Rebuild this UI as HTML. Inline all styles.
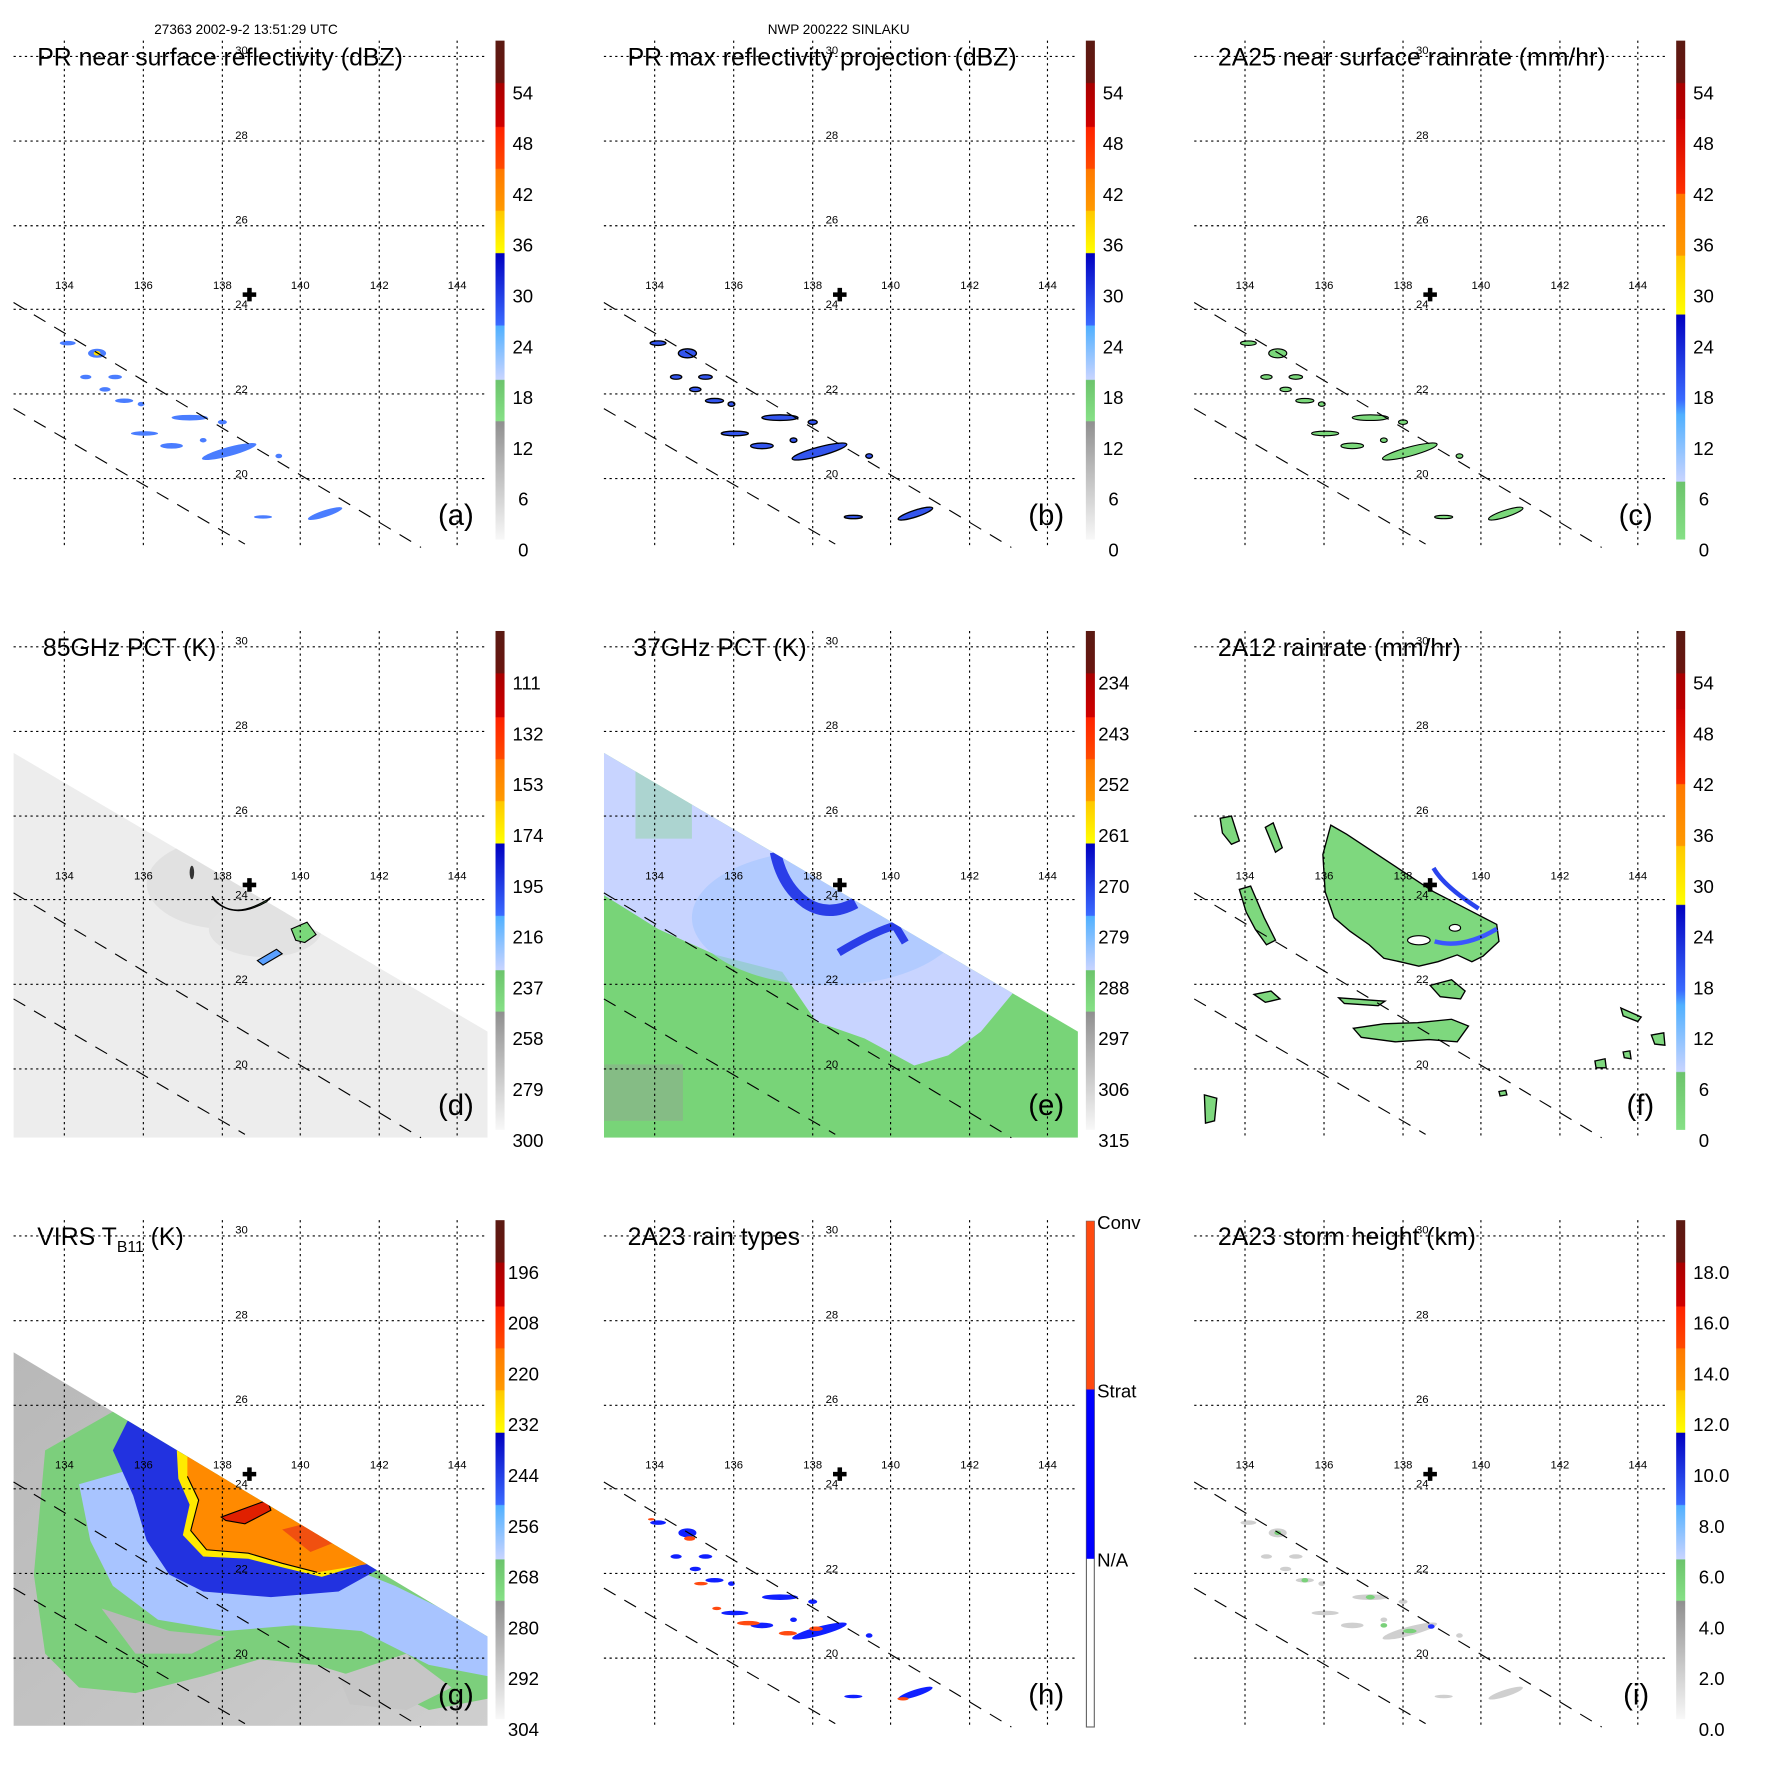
<!DOCTYPE html>
<html><head><meta charset="utf-8">
<style>
html,body{margin:0;padding:0;background:#fff;}
svg{display:block;}
text{font-family:"Liberation Sans",sans-serif;fill:#000;}
.t{font-size:22px;}
.l{font-size:26px;}
.c{font-size:16.5px;}
.s{font-size:10px;}
.h{font-size:12px;}
</style></head>
<body>
<svg width="1771" height="1771" viewBox="0 0 1569 1569" xmlns="http://www.w3.org/2000/svg" xmlns:xlink="http://www.w3.org/1999/xlink">
<defs>
<linearGradient id="gstd" x1="0" y1="0" x2="0" y2="1">
<stop offset="0" stop-color="#5a1a12"/><stop offset="0.084" stop-color="#6a1510"/>
<stop offset="0.086" stop-color="#a80000"/><stop offset="0.172" stop-color="#d00000"/>
<stop offset="0.174" stop-color="#ff2200"/><stop offset="0.256" stop-color="#ff4a00"/>
<stop offset="0.258" stop-color="#ff7800"/><stop offset="0.34" stop-color="#ff9a00"/>
<stop offset="0.342" stop-color="#ffc800"/><stop offset="0.425" stop-color="#ffff00"/>
<stop offset="0.427" stop-color="#0000c0"/><stop offset="0.57" stop-color="#3a6aff"/>
<stop offset="0.572" stop-color="#50b0ff"/><stop offset="0.679" stop-color="#c8d4ff"/>
<stop offset="0.681" stop-color="#6cc46c"/><stop offset="0.762" stop-color="#86e086"/>
<stop offset="0.764" stop-color="#909090"/><stop offset="1" stop-color="#f8f8f8"/>
</linearGradient>
<linearGradient id="grr" x1="0" y1="0" x2="0" y2="1">
<stop offset="0" stop-color="#5a1a12"/><stop offset="0.084" stop-color="#6a1510"/>
<stop offset="0.086" stop-color="#a80000"/><stop offset="0.156" stop-color="#c00000"/>
<stop offset="0.158" stop-color="#d00000"/><stop offset="0.306" stop-color="#ff3000"/>
<stop offset="0.308" stop-color="#ff7800"/><stop offset="0.43" stop-color="#ff9a00"/>
<stop offset="0.432" stop-color="#ffc800"/><stop offset="0.548" stop-color="#ffff00"/>
<stop offset="0.55" stop-color="#0000c0"/><stop offset="0.72" stop-color="#3a6aff"/>
<stop offset="0.75" stop-color="#50b0ff"/><stop offset="0.883" stop-color="#c8d4ff"/>
<stop offset="0.885" stop-color="#6cc46c"/><stop offset="1" stop-color="#86e086"/>
</linearGradient>
<linearGradient id="ggray" x1="0" y1="0" x2="1" y2="1">
<stop offset="0" stop-color="#b8b8b8"/><stop offset="0.6" stop-color="#c4c4c4"/><stop offset="1" stop-color="#cfcfcf"/>
</linearGradient>
<g id="grid" fill="none" stroke="#000" stroke-width="1" stroke-dasharray="2,3">
<path d="M57 36V486M127 36V486M197 36V486M266 36V486M336 36V486M405 36V486"/>
<path d="M12 50H432M12 125H432M12 200H432M12 274H432M12 349H432M12 424H432"/>
</g>
<g id="swl" fill="none" stroke="#000" stroke-width="1" stroke-dasharray="12,9">
<path d="M12 268L373 485M12 362L217 482"/>
</g>
<g id="dots">
<ellipse cx="60" cy="304" rx="7" ry="2"/><ellipse cx="86" cy="313" rx="8" ry="4"/>
<ellipse cx="76" cy="334" rx="5" ry="2"/><ellipse cx="102" cy="334" rx="6" ry="2"/>
<ellipse cx="93" cy="345" rx="5" ry="2"/><ellipse cx="110" cy="355" rx="8" ry="2"/>
<ellipse cx="168" cy="370" rx="16" ry="2.5"/><ellipse cx="197" cy="374" rx="4" ry="2"/>
<ellipse cx="128" cy="384" rx="12" ry="2"/><ellipse cx="152" cy="395" rx="10" ry="2.5"/>
<ellipse cx="203" cy="400" rx="25" ry="4" transform="rotate(-15 203 400)"/><ellipse cx="247" cy="404" rx="3" ry="2"/>
<ellipse cx="288" cy="455" rx="16" ry="3" transform="rotate(-18 288 455)"/><ellipse cx="233" cy="458" rx="8" ry="1.5"/>
<ellipse cx="125" cy="358" rx="3" ry="2"/><ellipse cx="180" cy="390" rx="3" ry="2"/>
</g>
<clipPath id="sw2"><polygon points="12,144 432,391 432,485 12,485"/></clipPath>
<clipPath id="sw3"><polygon points="12,153 432,405 432,484 12,484"/></clipPath>
</defs>

<rect width="1569" height="1569" fill="#fff"/>
<text class="h" x="218" y="30" text-anchor="middle">27363 2002-9-2 13:51:29 UTC</text>
<text class="h" x="743" y="30" text-anchor="middle">NWP 200222 SINLAKU</text>

<!-- ===== Panel a ===== -->
<g>
<use xlink:href="#dots" fill="#4a7dff"/>
<ellipse cx="86" cy="313" rx="3" ry="2" fill="#ffe000"/>
<use xlink:href="#grid"/><use xlink:href="#swl"/>
<rect x="439" y="36" width="8" height="442" fill="url(#gstd)"/>
<text class="c" x="454" y="88">54</text><text class="c" x="454" y="133">48</text><text class="c" x="454" y="178">42</text><text class="c" x="454" y="223">36</text><text class="c" x="454" y="268">30</text><text class="c" x="454" y="313">24</text><text class="c" x="454" y="358">18</text><text class="c" x="454" y="403">12</text><text class="c" x="459" y="448">6</text><text class="c" x="459" y="493">0</text>
<text class="t" x="33" y="58">PR near surface reflectivity (dBZ)</text>
<text class="l" x="388" y="465">(a)</text>
</g>

<!-- ===== Panel b ===== -->
<g transform="translate(523,0)">
<use xlink:href="#dots" fill="#3355ee" stroke="#000" stroke-width="1.2"/>
<use xlink:href="#grid"/><use xlink:href="#swl"/>
<rect x="439" y="36" width="8" height="442" fill="url(#gstd)"/>
<text class="c" x="454" y="88">54</text><text class="c" x="454" y="133">48</text><text class="c" x="454" y="178">42</text><text class="c" x="454" y="223">36</text><text class="c" x="454" y="268">30</text><text class="c" x="454" y="313">24</text><text class="c" x="454" y="358">18</text><text class="c" x="454" y="403">12</text><text class="c" x="459" y="448">6</text><text class="c" x="459" y="493">0</text>
<text class="t" x="33" y="58">PR max reflectivity projection (dBZ)</text>
<text class="l" x="388" y="465">(b)</text>
</g>

<!-- ===== Panel c ===== -->
<g transform="translate(1046,0)">
<use xlink:href="#dots" fill="#7ad87a" stroke="#000" stroke-width="1"/>
<use xlink:href="#grid"/><use xlink:href="#swl"/>
<rect x="439" y="36" width="8" height="442" fill="url(#grr)"/>
<text class="c" x="454" y="88">54</text><text class="c" x="454" y="133">48</text><text class="c" x="454" y="178">42</text><text class="c" x="454" y="223">36</text><text class="c" x="454" y="268">30</text><text class="c" x="454" y="313">24</text><text class="c" x="454" y="358">18</text><text class="c" x="454" y="403">12</text><text class="c" x="459" y="448">6</text><text class="c" x="459" y="493">0</text>
<text class="t" x="33" y="58">2A25 near surface rainrate (mm/hr)</text>
<text class="l" x="388" y="465">(c)</text>
</g>

<!-- ===== Panel d ===== -->
<g transform="translate(0,523)">
<g clip-path="url(#sw2)">
<rect x="12" y="140" width="420" height="345" fill="#ededed"/>
<ellipse cx="200" cy="260" rx="70" ry="40" fill="#dcdcdc" opacity="0.7"/>
<ellipse cx="235" cy="300" rx="50" ry="25" fill="#e2e2e2"/>
</g>
<path d="M188 271 Q205 295 240 272 L236 276 Q208 292 190 275Z" fill="#7ad87a" stroke="#000" stroke-width="1"/>
<path d="M258 300 L272 294 L280 305 L270 312 L262 310Z" fill="#7ad87a" stroke="#000" stroke-width="1"/>
<path d="M228 328 L245 318 L250 322 L233 332Z" fill="#5aa0ff" stroke="#000" stroke-width="1"/>
<ellipse cx="170" cy="250" rx="2" ry="6" fill="#333"/>
<use xlink:href="#grid"/><use xlink:href="#swl"/>
<rect x="439" y="36" width="8" height="442" fill="url(#gstd)"/>
<text class="c" x="454" y="88">111</text><text class="c" x="454" y="133">132</text><text class="c" x="454" y="178">153</text><text class="c" x="454" y="223">174</text><text class="c" x="454" y="268">195</text><text class="c" x="454" y="313">216</text><text class="c" x="454" y="358">237</text><text class="c" x="454" y="403">258</text><text class="c" x="454" y="448">279</text><text class="c" x="454" y="493">300</text>
<text class="t" x="38" y="58">85GHz PCT (K)</text>
<text class="l" x="388" y="465">(d)</text>
</g>

<!-- ===== Panel e ===== -->
<g transform="translate(523,523)">
<g clip-path="url(#sw2)">
<rect x="12" y="140" width="420" height="345" fill="#78d478"/>
<polygon points="12,100 432,340 419,345 390,338 346,391 317,412 287,421 243,397 200,382 170,338 111,323 60,300 12,270" fill="#c8d4ff"/>
<ellipse cx="210" cy="290" rx="120" ry="60" fill="#a8c8ff" opacity="0.7"/>
<path d="M164 232 Q170 262 191 277 Q211 290 235 277" fill="none" stroke="#2a3ee8" stroke-width="10"/>
<path d="M220 321 Q250 303 270 297 L279 312" fill="none" stroke="#2a3ee8" stroke-width="7"/>
<rect x="12" y="420" width="70" height="50" fill="#999" opacity="0.4"/>
<rect x="40" y="150" width="50" height="70" fill="#78d478" opacity="0.35"/>
</g>
<use xlink:href="#grid"/><use xlink:href="#swl"/>
<rect x="439" y="36" width="8" height="442" fill="url(#gstd)"/>
<text class="c" x="450" y="88">234</text><text class="c" x="450" y="133">243</text><text class="c" x="450" y="178">252</text><text class="c" x="450" y="223">261</text><text class="c" x="450" y="268">270</text><text class="c" x="450" y="313">279</text><text class="c" x="450" y="358">288</text><text class="c" x="450" y="403">297</text><text class="c" x="450" y="448">306</text><text class="c" x="450" y="493">315</text>
<text class="t" x="38" y="58">37GHz PCT (K)</text>
<text class="l" x="388" y="465">(e)</text>
</g>

<!-- ===== Panel f ===== -->
<g transform="translate(1046,523)">
<g fill="#7ed87e" stroke="#000" stroke-width="1.2">
<polygon points="133,208 147,216 224,267 280,296 282,311 268,324 258,329 245,323 228,329 211,333 194,329 180,326 167,314 150,302 136,290 128,267 126,234"/>
<polygon points="153,388 180,384 210,383 240,380 255,386 245,400 220,398 190,400 160,396"/>
<polygon points="140,361 181,364 175,368 145,366"/>
<polygon points="221,350 240,345 252,355 248,362 230,360"/>
<polygon points="52,265 62,262 74,290 84,310 76,314 66,300 58,285"/>
<polygon points="35,202 45,200 52,222 45,225 37,215"/>
<polygon points="75,210 82,206 90,228 84,232"/>
<polygon points="390,370 408,378 405,382 392,377"/>
<polygon points="417,394 428,392 429,403 420,402"/>
<polygon points="367,417 376,415 377,423 368,423"/>
<polygon points="392,409 398,408 399,415 393,414"/>
<polygon points="282,444 288,443 289,447 283,448"/>
<polygon points="21,447 32,450 30,470 22,472"/>
<polygon points="65,358 80,355 88,362 75,365"/>
</g>
<ellipse cx="211" cy="310" rx="10" ry="4" fill="#fff" stroke="#000"/>
<ellipse cx="243" cy="299" rx="5" ry="3" fill="#fff" stroke="#000"/>
<path d="M224 246 Q233 262 264 282" fill="none" stroke="#2a44ee" stroke-width="4"/>
<path d="M225 311 Q250 318 280 300" fill="none" stroke="#3a56ff" stroke-width="4"/>
<use xlink:href="#grid"/><use xlink:href="#swl"/>
<rect x="439" y="36" width="8" height="442" fill="url(#grr)"/>
<text class="c" x="454" y="88">54</text><text class="c" x="454" y="133">48</text><text class="c" x="454" y="178">42</text><text class="c" x="454" y="223">36</text><text class="c" x="454" y="268">30</text><text class="c" x="454" y="313">24</text><text class="c" x="454" y="358">18</text><text class="c" x="454" y="403">12</text><text class="c" x="459" y="448">6</text><text class="c" x="459" y="493">0</text>
<text class="t" x="33" y="58">2A12 rainrate (mm/hr)</text>
<text class="l" x="395" y="465">(f)</text>
</g>

<!-- ===== Panel g ===== -->
<g transform="translate(0,1045)">
<g clip-path="url(#sw3)">
<rect x="12" y="150" width="420" height="335" fill="url(#ggray)"/>
<polygon points="40,240 110,200 200,250 300,300 432,380 432,460 380,470 330,445 280,430 230,425 180,440 120,455 70,450 40,420 30,350" fill="#7ccf7c"/>
<polygon points="70,270 140,250 250,320 350,360 432,400 432,440 380,430 320,400 260,395 200,400 140,390 100,360 80,320" fill="#a8c4ff"/>
<polygon points="90,380 150,400 200,405 170,420 120,420" fill="#b8b8b8"/>
<polygon points="300,440 360,420 400,450 360,470 310,465" fill="#c6c6c6"/>
<polygon points="120,200 345,340 300,365 240,370 180,365 150,350 130,320 118,280 100,240" fill="#2232e0"/>
<polygon points="155,210 338,336 285,352 252,344 220,336 180,334 162,315 168,288 158,265" fill="#ffea00"/>
<polygon points="166,239 330,340 281,348 250,340 220,331 183,328 169,311 176,284 166,263" fill="#ff8a00"/>
<polygon points="196,299 237,284 240,293 217,305 200,302" fill="#e02000" stroke="#000"/>
<polygon points="250,310 290,300 300,320 275,330" fill="#f05010"/>
</g>
<path d="M166 263 L176 284 L169 311 L183 328 L220 331 L250 340 L281 348" fill="none" stroke="#000" stroke-width="1"/>
<use xlink:href="#grid"/><use xlink:href="#swl"/>
<rect x="439" y="36" width="8" height="442" fill="url(#gstd)"/>
<text class="c" x="450" y="88">196</text><text class="c" x="450" y="133">208</text><text class="c" x="450" y="178">220</text><text class="c" x="450" y="223">232</text><text class="c" x="450" y="268">244</text><text class="c" x="450" y="313">256</text><text class="c" x="450" y="358">268</text><text class="c" x="450" y="403">280</text><text class="c" x="450" y="448">292</text><text class="c" x="450" y="493">304</text>
<text class="t" x="33" y="58">VIRS T<tspan font-size="14" dy="6">B11</tspan><tspan dy="-6"> (K)</tspan></text>
<text class="l" x="388" y="465">(g)</text>
</g>

<!-- ===== Panel h ===== -->
<g transform="translate(523,1045)">
<use xlink:href="#dots" fill="#1020ff"/>
<g fill="#ff4a10">
<ellipse cx="88" cy="318" rx="5" ry="2"/><ellipse cx="140" cy="393" rx="10" ry="2"/><ellipse cx="175" cy="402" rx="8" ry="2"/>
<ellipse cx="200" cy="398" rx="6" ry="2"/><ellipse cx="98" cy="358" rx="6" ry="1.5"/><ellipse cx="277" cy="460" rx="5" ry="1.5"/>
<ellipse cx="112" cy="380" rx="4" ry="1.5"/><ellipse cx="54" cy="301" rx="3" ry="1"/>
</g>
<use xlink:href="#grid"/><use xlink:href="#swl"/>
<rect x="439.5" y="37" width="7" height="448" fill="#fff" stroke="#666" stroke-width="1"/>
<rect x="439.5" y="37" width="7" height="149" fill="#ff4a10"/>
<rect x="439.5" y="186" width="7" height="150" fill="#0000ff"/>
<text class="c" x="449" y="44">Conv</text><text class="c" x="449" y="193">Strat</text><text class="c" x="449" y="343">N/A</text>
<text class="t" x="33" y="58">2A23 rain types</text>
<text class="l" x="388" y="465">(h)</text>
</g>

<!-- ===== Panel i ===== -->
<g transform="translate(1046,1045)">
<use xlink:href="#dots" fill="#cfcfcf"/>
<g fill="#7ad07a"><ellipse cx="86" cy="313" rx="3" ry="2"/><ellipse cx="110" cy="355" rx="3" ry="2"/><ellipse cx="168" cy="370" rx="4" ry="2"/><ellipse cx="203" cy="400" rx="6" ry="2"/><ellipse cx="180" cy="395" rx="3" ry="2"/></g>
<ellipse cx="222" cy="396" rx="3" ry="2" fill="#2030ff"/>
<use xlink:href="#grid"/><use xlink:href="#swl"/>
<rect x="439" y="36" width="8" height="442" fill="url(#gstd)"/>
<text class="c" x="454" y="88">18.0</text><text class="c" x="454" y="133">16.0</text><text class="c" x="454" y="178">14.0</text><text class="c" x="454" y="223">12.0</text><text class="c" x="454" y="268">10.0</text><text class="c" x="459" y="313">8.0</text><text class="c" x="459" y="358">6.0</text><text class="c" x="459" y="403">4.0</text><text class="c" x="459" y="448">2.0</text><text class="c" x="459" y="493">0.0</text>
<text class="t" x="33" y="58">2A23 storm height (km)</text>
<text class="l" x="392" y="465">(i)</text>
</g>

<!-- lat/lon labels -->
<g class="s">
<g font-size="10" text-anchor="middle">
<text x="57" y="256">134</text><text x="127" y="256">136</text><text x="197" y="256">138</text><text x="266" y="256">140</text><text x="336" y="256">142</text><text x="405" y="256">144</text>
<text x="214" y="48">30</text><text x="214" y="123">28</text><text x="214" y="198">26</text><text x="214" y="273">24</text><text x="214" y="348">22</text><text x="214" y="423">20</text>
<text x="580" y="256">134</text><text x="650" y="256">136</text><text x="720" y="256">138</text><text x="789" y="256">140</text><text x="859" y="256">142</text><text x="928" y="256">144</text>
<text x="737" y="48">30</text><text x="737" y="123">28</text><text x="737" y="198">26</text><text x="737" y="273">24</text><text x="737" y="348">22</text><text x="737" y="423">20</text>
<text x="1103" y="256">134</text><text x="1173" y="256">136</text><text x="1243" y="256">138</text><text x="1312" y="256">140</text><text x="1382" y="256">142</text><text x="1451" y="256">144</text>
<text x="1260" y="48">30</text><text x="1260" y="123">28</text><text x="1260" y="198">26</text><text x="1260" y="273">24</text><text x="1260" y="348">22</text><text x="1260" y="423">20</text>

<text x="57" y="779">134</text><text x="127" y="779">136</text><text x="197" y="779">138</text><text x="266" y="779">140</text><text x="336" y="779">142</text><text x="405" y="779">144</text>
<text x="214" y="571">30</text><text x="214" y="646">28</text><text x="214" y="721">26</text><text x="214" y="796">24</text><text x="214" y="871">22</text><text x="214" y="946">20</text>
<text x="580" y="779">134</text><text x="650" y="779">136</text><text x="720" y="779">138</text><text x="789" y="779">140</text><text x="859" y="779">142</text><text x="928" y="779">144</text>
<text x="737" y="571">30</text><text x="737" y="646">28</text><text x="737" y="721">26</text><text x="737" y="796">24</text><text x="737" y="871">22</text><text x="737" y="946">20</text>
<text x="1103" y="779">134</text><text x="1173" y="779">136</text><text x="1243" y="779">138</text><text x="1312" y="779">140</text><text x="1382" y="779">142</text><text x="1451" y="779">144</text>
<text x="1260" y="571">30</text><text x="1260" y="646">28</text><text x="1260" y="721">26</text><text x="1260" y="796">24</text><text x="1260" y="871">22</text><text x="1260" y="946">20</text>

<text x="57" y="1301">134</text><text x="127" y="1301">136</text><text x="197" y="1301">138</text><text x="266" y="1301">140</text><text x="336" y="1301">142</text><text x="405" y="1301">144</text>
<text x="214" y="1093">30</text><text x="214" y="1168">28</text><text x="214" y="1243">26</text><text x="214" y="1318">24</text><text x="214" y="1393">22</text><text x="214" y="1468">20</text>
<text x="580" y="1301">134</text><text x="650" y="1301">136</text><text x="720" y="1301">138</text><text x="789" y="1301">140</text><text x="859" y="1301">142</text><text x="928" y="1301">144</text>
<text x="737" y="1093">30</text><text x="737" y="1168">28</text><text x="737" y="1243">26</text><text x="737" y="1318">24</text><text x="737" y="1393">22</text><text x="737" y="1468">20</text>
<text x="1103" y="1301">134</text><text x="1173" y="1301">136</text><text x="1243" y="1301">138</text><text x="1312" y="1301">140</text><text x="1382" y="1301">142</text><text x="1451" y="1301">144</text>
<text x="1260" y="1093">30</text><text x="1260" y="1168">28</text><text x="1260" y="1243">26</text><text x="1260" y="1318">24</text><text x="1260" y="1393">22</text><text x="1260" y="1468">20</text>
</g>
</g>
<g fill="#000">
<path d="M219 255h4v4h4v4h-4v4h-4v-4h-4v-4h4z"/>
<path d="M742 255h4v4h4v4h-4v4h-4v-4h-4v-4h4z"/>
<path d="M1265 255h4v4h4v4h-4v4h-4v-4h-4v-4h4z"/>
<path d="M219 778h4v4h4v4h-4v4h-4v-4h-4v-4h4z"/>
<path d="M742 778h4v4h4v4h-4v4h-4v-4h-4v-4h4z"/>
<path d="M1265 778h4v4h4v4h-4v4h-4v-4h-4v-4h4z"/>
<path d="M219 1300h4v4h4v4h-4v4h-4v-4h-4v-4h4z"/>
<path d="M742 1300h4v4h4v4h-4v4h-4v-4h-4v-4h4z"/>
<path d="M1265 1300h4v4h4v4h-4v4h-4v-4h-4v-4h4z"/>
</g>
</svg>
</body></html>
